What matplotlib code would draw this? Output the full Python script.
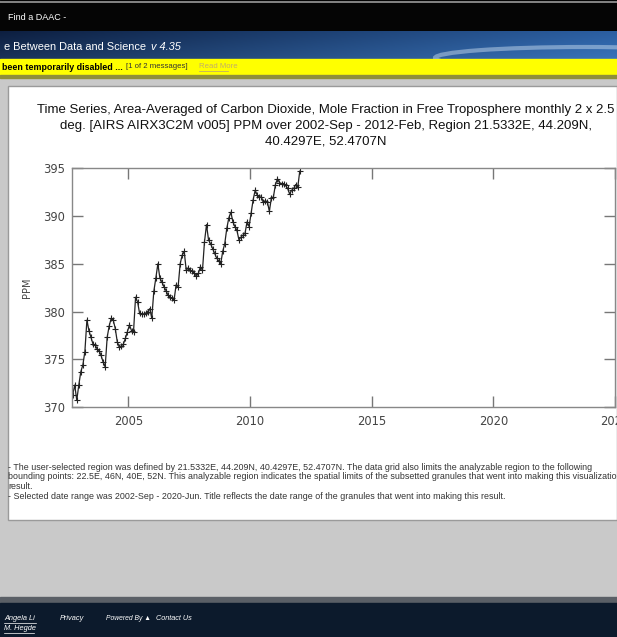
import matplotlib.pyplot as plt
import numpy as np
from matplotlib.patches import Rectangle, Ellipse

# AIRS AIRX3C2M monthly CO2 (ppm), area-averaged, 2002-Sep .. 2012-Feb
co2 = [371.3, 372.3, 370.7, 372.3, 373.7, 374.4, 375.8, 379.1, 378.0, 377.3, 376.6, 376.5,
       376.1, 375.9, 375.4, 374.7, 374.2, 377.3, 378.5, 379.3, 379.1, 378.2, 376.8, 376.3,
       376.4, 376.6, 377.2, 377.9, 378.6, 378.0, 377.9, 381.5, 381.0, 379.8, 379.7, 379.7,
       379.8, 380.0, 380.3, 379.3, 382.1, 383.5, 385.0, 383.5, 383.1, 382.6, 382.2, 381.7,
       381.5, 381.4, 381.2, 382.8, 382.6, 385.0, 385.9, 386.3, 384.3, 384.6, 384.3, 384.2,
       384.0, 383.7, 384.0, 384.7, 384.3, 387.3, 389.1, 387.5, 387.1, 386.6, 386.1, 385.6,
       385.3, 385.0, 386.3, 387.1, 388.7, 389.8, 390.4, 389.4, 388.9, 388.5, 387.5, 387.8,
       388.0, 388.2, 389.4, 388.9, 390.3, 391.7, 392.7, 392.2, 392.0, 392.0, 391.5, 391.6,
       391.5, 390.5, 391.9, 392.0, 393.3, 393.9, 393.5, 393.4, 393.4, 393.2, 392.9, 392.3,
       392.7, 392.9, 393.3, 393.0, 394.7]
start_year, start_month = 2002, 9
yticks = [370, 375, 380, 385, 390, 395]
xticks = [2005, 2010, 2015, 2020, 2025]

title = ("Time Series, Area-Averaged of Carbon Dioxide, Mole Fraction in Free Troposphere monthly 2 x 2.5\n"
         "deg. [AIRS AIRX3C2M v005] PPM over 2002-Sep - 2012-Feb, Region 21.5332E, 44.209N,\n"
         "40.4297E, 52.4707N")
notes = [
    "- The user-selected region was defined by 21.5332E, 44.209N, 40.4297E, 52.4707N. The data grid also limits the analyzable region to the following",
    "bounding points: 22.5E, 46N, 40E, 52N. This analyzable region indicates the spatial limits of the subsetted granules that went into making this visualization",
    "result.",
    "- Selected date range was 2002-Sep - 2020-Jun. Title reflects the date range of the granules that went into making this result.",
]

W, H = 617, 637
fig = plt.figure(figsize=(W / 100, H / 100), dpi=100)

# page background in pixel coordinates
bg = fig.add_axes([0, 0, 1, 1])
bg.set_xlim(0, W)
bg.set_ylim(H, 0)
bg.axis("off")
sans = "Liberation Sans"

bg.add_patch(Rectangle((0, 0), W, H, color="#c9c9c9", zorder=0))
# top black bar
bg.add_patch(Rectangle((0, 0), W, 31, color="#050505", zorder=1))
bg.plot([0, W], [2, 2], color="#9a9a9a", lw=1.2, zorder=2)
bg.text(8, 17, "Find a DAAC -", color="white", fontsize=6.5, family=sans, va="center", zorder=3)

# blue banner
gx = np.linspace(0, 1, 300)
gy = np.linspace(0, 1, 40)[:, None]
r = 0.05 + 0.12 * gx + 0.05 * gy
g = 0.12 + 0.25 * gx + 0.08 * gy
b = 0.25 + 0.38 * gx + 0.10 * gy
grad = np.dstack([r + 0 * gy, g + 0 * gy, b + 0 * gy]).clip(0, 1)
bg.imshow(grad, extent=[0, W, 59, 31], aspect="auto", zorder=1)
glow = Ellipse((585, 58), 300, 22, facecolor="none", edgecolor="#c4d8ec", lw=3, alpha=0.5, zorder=2)
bg.add_patch(glow)
glow.set_clip_path(Rectangle((0, 31), W, 28, transform=bg.transData))
bg.text(4, 47, "e Between Data and Science", color="white", fontsize=7.9, family=sans, va="center", zorder=3)
bg.text(151, 47, "v 4.35", color="white", fontsize=7.9, family=sans, style="italic", va="center", zorder=3)

# yellow message bar
bg.add_patch(Rectangle((0, 59), W, 16, color="#ffff00", zorder=1))
bg.add_patch(Rectangle((0, 75), W, 3, color="#8f8f3a", zorder=1))
bg.text(2, 67, "been temporarily disabled ...", color="black", fontsize=6.4, family=sans,
        weight="bold", va="center", zorder=3)
bg.text(126, 67, "[1 of 2 messages]", color="#333333", fontsize=5.6, family=sans, va="center", zorder=3)
bg.text(199, 67, "Read More", color="#c2ad68", fontsize=5.6, family=sans, va="center", zorder=3)
bg.plot([199, 228], [70.5, 70.5], color="#c2ad68", lw=0.6, zorder=3)

# white result panel
bg.add_patch(Rectangle((8, 86), W - 8, 434, facecolor="white", edgecolor="#9a9a9a", lw=1, zorder=1))
bg.text(326, 126, title, ha="center", va="center", fontsize=9.55, family=sans,
        color="#111111", linespacing=1.42, zorder=3)
for i, line in enumerate(notes):
    bg.text(8, 467 + i * 9.7, line, fontsize=6.4, family=sans, color="#333333", va="center", zorder=3)

# footer
bg.add_patch(Rectangle((0, 597), W, 7, color="#5a5f66", zorder=1))
bg.add_patch(Rectangle((0, 603), W, H - 603, color="#0c1a2c", zorder=1))
for x, y, s, fs in [(4, 619, "Angela Li", 5.3), (4, 629, "M. Hegde", 5.3), (60, 619, "Privacy", 5.3),
                    (106, 619, "Powered By \u25b2", 4.9), (156, 619, "Contact Us", 5.2)]:
    bg.text(x, y, s, color="white", fontsize=fs, family=sans, style="italic", va="center", zorder=3)
bg.plot([4, 36], [623, 623], color="white", lw=0.5, zorder=3)
bg.plot([4, 34], [633, 633], color="white", lw=0.5, zorder=3)

# chart
ax = fig.add_axes([71.7 / W, 1 - 407 / H, (615 - 71.7) / W, (407 - 168.3) / H])
months = np.arange(len(co2))
t = start_year + (start_month - 1 + months + 0.5) / 12
ax.plot(t, co2, color="#222222", lw=0.9, marker="+", ms=4, mew=0.8)
ax.set_xlim(2002 + 8 / 12, 2025.0)
ax.set_ylim(370, 395)
ax.set_xticks(xticks)
ax.set_yticks(yticks)
ax.tick_params(direction="in", length=8, width=1, color="#777777", labelcolor="#444444",
               labelsize=8.3, top=True, right=True)
ax.tick_params(axis="x", pad=6)
ax.tick_params(axis="y", pad=5)
for sp in ax.spines.values():
    sp.set_color("#888888")
    sp.set_linewidth(1)
ax.set_ylabel("PPM", fontsize=7, color="#444444", labelpad=8)

fig.savefig("out.png", dpi=100)
